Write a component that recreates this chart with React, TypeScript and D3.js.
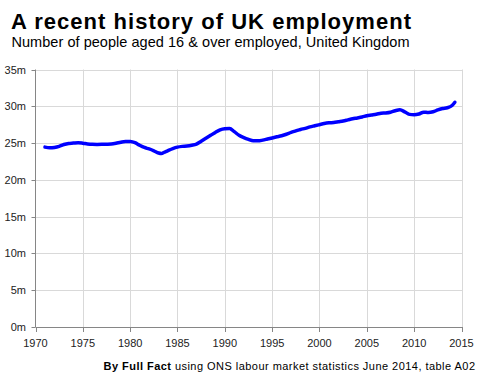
import React from "react";
import * as d3 from "d3";

const years: number[] = [
  1971.0, 1971.5, 1972.0, 1972.5, 1973.0, 1973.5, 1974.0, 1974.5, 1975.0, 1975.5,
  1976.0, 1976.5, 1977.0, 1977.5, 1978.0, 1978.5, 1979.0, 1979.5, 1980.0, 1980.5,
  1981.0, 1981.5, 1982.0, 1982.5, 1983.0, 1983.3, 1983.6, 1984.0, 1984.5, 1985.0,
  1985.5, 1986.0, 1986.5, 1987.0, 1987.5, 1988.0, 1988.5, 1989.0, 1989.5, 1990.0,
  1990.5, 1991.0, 1991.5, 1992.0, 1992.5, 1993.0, 1993.5, 1994.0, 1994.5, 1995.0,
  1995.5, 1996.0, 1996.5, 1997.0, 1997.5, 1998.0, 1998.5, 1999.0, 1999.5, 2000.0,
  2000.5, 2001.0, 2001.5, 2002.0, 2002.5, 2003.0, 2003.5, 2004.0, 2004.5, 2005.0,
  2005.5, 2006.0, 2006.5, 2007.0, 2007.5, 2008.0, 2008.5, 2009.0, 2009.5, 2010.0,
  2010.5, 2011.0, 2011.5, 2012.0, 2012.5, 2013.0, 2013.5, 2014.0, 2014.3,
];

const employment: number[] = [
  24.45, 24.35, 24.4, 24.55, 24.8, 24.95, 25.0, 25.05, 24.98, 24.88,
  24.83, 24.82, 24.83, 24.85, 24.88, 24.98, 25.12, 25.22, 25.2, 25.05,
  24.7, 24.4, 24.2, 23.95, 23.65, 23.58, 23.75, 23.98, 24.25, 24.45,
  24.55, 24.6, 24.7, 24.85, 25.25, 25.65, 26.05, 26.45, 26.8, 26.95,
  26.98, 26.55, 26.05, 25.75, 25.5, 25.3, 25.3, 25.4, 25.55, 25.7,
  25.85, 26.0, 26.2, 26.45, 26.65, 26.85, 27.0, 27.2, 27.35, 27.5,
  27.65, 27.75, 27.8, 27.9, 28.0, 28.15, 28.3, 28.42, 28.55, 28.72,
  28.82, 28.92, 29.05, 29.1, 29.2, 29.4, 29.52, 29.25, 28.9, 28.85,
  28.95, 29.2, 29.15, 29.25, 29.5, 29.7, 29.8, 30.1, 30.55,
];

const xTicks: number[] = [1970, 1975, 1980, 1985, 1990, 1995, 2000, 2005, 2010, 2015];
const yTicks: number[] = [0, 5, 10, 15, 20, 25, 30, 35];

const title = "A recent history of UK employment";
const subtitle = "Number of people aged 16 & over employed, United Kingdom";
const sourceBold = "By Full Fact";
const sourceRest = " using ONS labour market statistics June 2014, table A02";

export default function App() {
  const W = 489;
  const H = 380;
  const left = 35.5;
  const right = 461.5;
  const top = 69.5;
  const bottom = 327;
  const font = "'Liberation Sans', Arial, sans-serif";

  const x = d3.scaleLinear().domain([1970, 2015]).range([left, right]);
  const y = d3.scaleLinear().domain([0, 35]).range([bottom, top]);

  const data = years.map((yr, i) => ({ yr, v: employment[i] }));
  const line = d3
    .line<{ yr: number; v: number }>()
    .x((d) => x(d.yr))
    .y((d) => y(d.v))
    .curve(d3.curveMonotoneX);

  return (
    <svg
      width={W}
      height={H}
      style={{ position: "absolute", left: 0, top: 0, background: "#fff" }}
      fontFamily={font}
    >
      <rect x={0} y={0} width={W} height={H} fill="#fff" />
      {yTicks.filter((t) => t > 0).map((t) => (
        <line key={"hg" + t} x1={left} x2={right + 1.5} y1={Math.round(y(t)) + 0.5} y2={Math.round(y(t)) + 0.5} stroke="#d9d9d9" strokeWidth={1} />
      ))}
      {xTicks.filter((t) => t > 1970).map((t) => (
        <line key={"vg" + t} x1={Math.round(x(t)) + 0.5} x2={Math.round(x(t)) + 0.5} y1={top} y2={bottom} stroke="#d9d9d9" strokeWidth={1} />
      ))}
      <line x1={left} x2={left} y1={top} y2={bottom} stroke="#868686" strokeWidth={1} />
      <line x1={left} x2={right + 1.5} y1={bottom + 0.5} y2={bottom + 0.5} stroke="#868686" strokeWidth={1} />
      {yTicks.map((t) => (
        <g key={"yt" + t}>
          <line x1={left - 4} x2={left} y1={Math.round(y(t)) + 0.5} y2={Math.round(y(t)) + 0.5} stroke="#868686" />
          <text x={26} y={y(t) + 4} textAnchor="end" fontSize={11} fill="#222">
            {t + "m"}
          </text>
        </g>
      ))}
      {xTicks.map((t) => (
        <g key={"xt" + t}>
          <line x1={Math.round(x(t)) + 0.5} x2={Math.round(x(t)) + 0.5} y1={bottom} y2={bottom + 5} stroke="#868686" />
          <text x={x(t)} y={346.5} textAnchor="middle" fontSize={11} fill="#222">
            {t}
          </text>
        </g>
      ))}
      <path d={line(data) || ""} fill="none" stroke="#0000ff" strokeWidth={3.5} strokeLinejoin="round" strokeLinecap="round" />
      <text x={11} y={28.5} fontSize={22} fontWeight="bold" fill="#000" textLength={400} lengthAdjust="spacing">
        {title}
      </text>
      <text x={11.5} y={47} fontSize={14.5} fill="#000" textLength={398} lengthAdjust="spacing">
        {subtitle}
      </text>
      <text x={103.5} y={370} fontSize={11} fill="#000" textLength={371.5} lengthAdjust="spacing">
        <tspan fontWeight="bold">{sourceBold}</tspan>
        <tspan>{sourceRest}</tspan>
      </text>
    </svg>
  );
}
